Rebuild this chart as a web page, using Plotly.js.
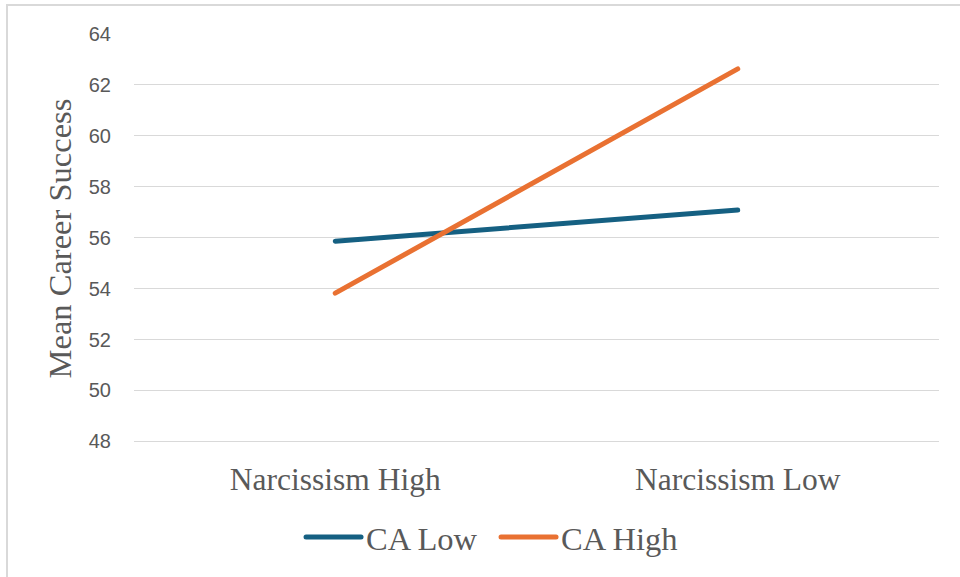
<!DOCTYPE html>
<html>
<head>
<meta charset="utf-8">
<script src="https://cdn.plot.ly/plotly-3.0.1.min.js"></script>
<style>
  html, body { margin: 0; padding: 0; background: #fff; overflow: hidden; }
  #wrap { position: relative; width: 960px; height: 577px; }
  #chart { width: 960px; height: 577px; }
  #frame { position: absolute; left: 6px; top: 4px; width: 1200px; height: 1200px;
           border: 2px solid #d9d9d9; pointer-events: none; box-sizing: border-box; }
  .scatterlayer .js-line, .legend .js-line { stroke-linecap: round; }
</style>
</head>
<body>
<div id="wrap">
  <div id="chart"></div>
  <div id="frame"></div>
</div>
<script>
const categories = ["Narcissism High", "Narcissism Low"];
const caLow = [55.86, 57.08];
const caHigh = [53.82, 62.62];
const yTicks = [48, 50, 52, 54, 56, 58, 60, 62, 64];
const seriesNames = ["CA Low", "CA High"];

const serif = "'Liberation Serif', 'Times New Roman', serif";
const sans = "'Liberation Sans', Arial, sans-serif";

const traces = [
  { x: categories, y: caLow, name: seriesNames[0], type: "scatter", mode: "lines",
    line: { color: "#156082", width: 5 } },
  { x: categories, y: caHigh, name: seriesNames[1], type: "scatter", mode: "lines",
    line: { color: "#E97132", width: 5 } }
];

const layout = {
  width: 960, height: 577,
  margin: { l: 134, r: 21, t: 32.7, b: 132.7 },
  paper_bgcolor: "#ffffff", plot_bgcolor: "#ffffff",
  showlegend: true,
  xaxis: {
    type: "category", range: [-0.5, 1.5],
    showgrid: false, zeroline: false, showline: false, ticks: "",
    tickfont: { family: serif, size: 31.5, color: "#595959" },
    ticklabelstandoff: 13,
    fixedrange: true
  },
  yaxis: {
    range: [47.9, 64.03], tickvals: yTicks, ticktext: yTicks.map(String),
    showgrid: true, gridcolor: "#d9d9d9", gridwidth: 1.5,
    zeroline: false, showline: false, ticks: "",
    ticklabelstandoff: 22,
    tickfont: { family: sans, size: 20, color: "#595959" },
    title: { text: "Mean Career Success", font: { family: serif, size: 32.5, color: "#595959" }, standoff: 7 },
    fixedrange: true
  },
  legend: {
    orientation: "h", x: 0.2075, xanchor: "left",
    yref: "container", y: 0.117, yanchor: "top",
    font: { family: serif, size: 32.5, color: "#595959" },
    itemwidth: 55, entrywidth: 125, entrywidthmode: "pixels",
    tracegroupgap: 0, bgcolor: "rgba(0,0,0,0)"
  }
};

Plotly.newPlot("chart", traces, layout, { displayModeBar: false, staticPlot: true });
</script>
</body>
</html>
